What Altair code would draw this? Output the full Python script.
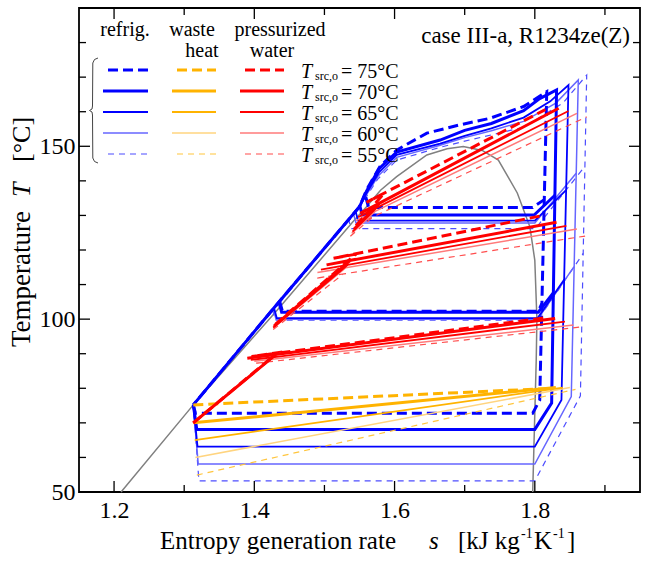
import altair as alt
import pandas as pd

# ---------------- values ----------------
CASES = [75, 70, 65, 60, 55]  # T_src,o [°C]

# saturation dome (grey)
DOME_S = [1.210, 1.313, 1.430, 1.540, 1.560, 1.580, 1.603, 1.646, 1.675, 1.698,
          1.725, 1.748, 1.775, 1.793, 1.800, 1.803, 1.802, 1.797]
DOME_T = [50.0, 75.2, 102.0, 128.0, 132.5, 137.3, 141.2, 147.5, 149.3, 149.9,
          148.8, 146.0, 136.5, 126.7, 117.0, 100.0, 88.0, 50.0]

# refrigerant: main loop (throttle, evaporator, superheat, compression, gas cooler, liquid line)
REF_MAIN_S = {
    75: [1.313, 1.316, 1.797, 1.807, 1.817, 1.784, 1.736, 1.693, 1.646, 1.603, 1.579, 1.560, 1.550, 1.427, 1.313],
    70: [1.313, 1.318, 1.800, 1.824, 1.831, 1.807, 1.784, 1.738, 1.700, 1.665, 1.603, 1.578, 1.560, 1.550, 1.427, 1.313],
    65: [1.313, 1.319, 1.800, 1.838, 1.848, 1.822, 1.784, 1.738, 1.700, 1.665, 1.603, 1.578, 1.560, 1.550, 1.427, 1.313],
    60: [1.313, 1.320, 1.800, 1.852, 1.862, 1.830, 1.784, 1.738, 1.700, 1.665, 1.603, 1.577, 1.560, 1.550, 1.427, 1.313],
    55: [1.313, 1.321, 1.800, 1.865, 1.874, 1.840, 1.784, 1.738, 1.700, 1.665, 1.603, 1.576, 1.560, 1.550, 1.427, 1.313],
}
REF_MAIN_T = {
    75: [75.2, 72.8, 72.8, 76.6, 165.8, 161.5, 158.1, 156.2, 153.8, 148.9, 144.1, 137.4, 132.5, 103.0, 75.2],
    70: [75.2, 68.1, 68.1, 75.7, 166.3, 163.8, 160.3, 156.6, 154.6, 151.8, 148.3, 143.5, 137.0, 132.5, 103.0, 75.2],
    65: [75.2, 63.1, 63.1, 76.6, 167.7, 163.0, 158.3, 155.2, 153.0, 150.8, 147.5, 142.5, 136.5, 132.5, 103.0, 75.2],
    60: [75.2, 58.1, 58.1, 77.6, 169.2, 162.5, 157.2, 154.5, 152.5, 150.3, 146.8, 141.5, 136.0, 132.5, 103.0, 75.2],
    55: [75.2, 53.2, 53.2, 77.8, 170.6, 162.5, 155.5, 153.3, 151.5, 149.7, 146.0, 140.5, 135.5, 132.5, 103.0, 75.2],
}
# refrigerant: first intermediate pressure level
REF_MID1_S = {75: [1.436, 1.440, 1.805, 1.810], 70: [1.435, 1.439, 1.805, 1.826],
              65: [1.428, 1.432, 1.804, 1.842], 60: [1.427, 1.431, 1.804, 1.856],
              55: [1.426, 1.430, 1.804, 1.869]}
REF_MID1_T = {75: [105.3, 102.3, 102.3, 104.5], 70: [105.0, 102.0, 102.0, 107.5],
              65: [103.3, 100.3, 100.3, 111.5], 60: [103.0, 100.0, 100.0, 115.2],
              55: [102.7, 99.7, 99.7, 119.0]}
# refrigerant: second intermediate pressure level
REF_MID2_S = {75: [1.559, 1.563, 1.797, 1.813], 70: [1.550, 1.554, 1.799, 1.829],
              65: [1.544, 1.548, 1.800, 1.845], 60: [1.541, 1.545, 1.800, 1.859],
              55: [1.534, 1.538, 1.801, 1.871]}
REF_MID2_T = {75: [135.3, 132.3, 132.3, 134.5], 70: [133.1, 130.1, 130.1, 135.9],
              65: [131.5, 128.5, 128.5, 137.4], 60: [130.8, 127.8, 127.8, 142.2],
              55: [129.2, 126.2, 126.2, 144.1]}

# waste heat (source) lines
WASTE_S = {75: [1.313, 1.815], 70: [1.313, 1.830], 65: [1.315, 1.840], 60: [1.316, 1.850], 55: [1.318, 1.858]}
WASTE_T = {75: [75.2, 79.9], 70: [70.0, 80.2], 65: [65.0, 80.2], 60: [60.0, 80.2], 55: [54.9, 79.7]}

# pressurized water: three heating stages
WATER_LOW_S = {75: [1.313, 1.433, 1.396, 1.812], 70: [1.313, 1.431, 1.390, 1.829],
               65: [1.313, 1.426, 1.395, 1.843], 60: [1.313, 1.422, 1.400, 1.855],
               55: [1.313, 1.418, 1.400, 1.869]}
WATER_LOW_T = {75: [70.0, 90.3, 89.2, 100.3], 70: [70.0, 89.8, 88.7, 100.2],
               65: [70.0, 89.0, 88.2, 99.3], 60: [70.0, 88.3, 87.8, 98.3],
               55: [70.0, 87.6, 87.2, 97.8]}
WATER_MID_S = {75: [1.430, 1.545, 1.513, 1.814], 70: [1.428, 1.537, 1.503, 1.831],
               65: [1.427, 1.533, 1.495, 1.845], 60: [1.427, 1.530, 1.490, 1.860],
               55: [1.427, 1.527, 1.487, 1.874]}
WATER_MID_T = {75: [98.5, 118.8, 117.6, 130.1], 70: [98.0, 117.0, 115.7, 128.0],
               65: [97.6, 115.7, 114.3, 127.0], 60: [97.4, 114.8, 113.5, 126.1],
               55: [97.0, 113.1, 111.8, 124.1]}
WATER_HIGH_S = {75: [1.545, 1.585, 1.560, 1.815], 70: [1.542, 1.579, 1.551, 1.834],
                65: [1.540, 1.575, 1.548, 1.848], 60: [1.539, 1.573, 1.545, 1.860],
                55: [1.537, 1.570, 1.542, 1.874]}
WATER_HIGH_T = {75: [127.0, 136.4, 133.8, 160.6], 70: [126.0, 133.6, 130.6, 161.0],
                65: [125.3, 132.3, 129.5, 160.2], 60: [124.8, 131.3, 128.5, 159.5],
                55: [124.0, 129.7, 127.0, 158.5]}

X_MAJOR = [1.2, 1.4, 1.6, 1.8]
X_MINOR = [1.3, 1.5, 1.7, 1.9]
Y_MAJOR = [50, 100, 150]
Y_MINOR = [60, 70, 80, 90, 110, 120, 130, 140, 160, 170, 180]

# ---------------- styles ----------------
W, H = 561, 484
SERIF = "Liberation Serif"
BLUE = {75: "#0000FF", 70: "#0000FF", 65: "#0000FF", 60: "#6666FF", 55: "#4D4DFF"}
ORANGE = {75: "#FFB300", 70: "#FFB300", 65: "#FFB300", 60: "#FFD47F", 55: "#FFC53D"}
RED = {75: "#FF0000", 70: "#FF0000", 65: "#FF0000", 60: "#FF7A7A", 55: "#FF4D4D"}
WIDTH = {75: 3.0, 70: 3.0, 65: 1.8, 60: 1.5, 55: 1.2}
DASH = {75: [10, 5], 70: None, 65: None, 60: None, 55: [6, 5]}

XS = alt.Scale(domain=[1.15, 1.95], nice=False, zero=False)
YS = alt.Scale(domain=[50, 190], nice=False, zero=False)
XAX = alt.Axis(values=X_MAJOR, format=".1f", ticks=False, tickSize=0, domain=False, grid=False,
               labelFont=SERIF, labelFontSize=24, labelColor="black", labelPadding=6,
               labelFlush=False, labelOverlap=False, title=None)
YAX = alt.Axis(values=Y_MAJOR, format="d", ticks=False, tickSize=0, domain=False, grid=False,
               labelFont=SERIF, labelFontSize=24, labelColor="black", labelPadding=4,
               labelFlush=False, labelOverlap=False, title=None)

ONE = pd.DataFrame({"k": [0]})


def poly(s, t, color, width, dash=None):
    df = pd.DataFrame({"s": s, "T": t, "i": list(range(len(s)))})
    kw = dict(color=color, strokeWidth=width, strokeJoin="miter")
    if dash:
        kw["strokeDash"] = dash
    return alt.Chart(df).mark_line(**kw).encode(
        x=alt.X("s:Q", scale=XS, axis=XAX),
        y=alt.Y("T:Q", scale=YS, axis=YAX),
        order="i:Q",
    )


def txt(text, x, y, size, align="left", style="normal", angle=0, baseline="alphabetic"):
    kw = dict(text=text, font=SERIF, fontSize=size, align=align, baseline=baseline,
              color="black", fontStyle=style)
    if angle:
        kw["angle"] = angle
    return alt.Chart(ONE).mark_text(**kw).encode(x=alt.value(x), y=alt.value(y))


def hrule(x1, x2, y, color, width, dash=None):
    kw = dict(color=color, strokeWidth=width)
    if dash:
        kw["strokeDash"] = dash
    return alt.Chart(ONE).mark_rule(**kw).encode(x=alt.value(x1), x2=alt.value(x2), y=alt.value(y))


layers = []

# saturation dome
layers.append(poly(DOME_S, DOME_T, "#808080", 1.5))

order = [55, 60, 65, 70, 75]
for c in order:
    layers.append(poly(REF_MAIN_S[c], REF_MAIN_T[c], BLUE[c], WIDTH[c], DASH[c]))
    layers.append(poly(REF_MID1_S[c], REF_MID1_T[c], BLUE[c], WIDTH[c], DASH[c]))
    layers.append(poly(REF_MID2_S[c], REF_MID2_T[c], BLUE[c], WIDTH[c], DASH[c]))
for c in order:
    layers.append(poly(WASTE_S[c], WASTE_T[c], ORANGE[c], WIDTH[c], DASH[c]))
for c in order:
    layers.append(poly(WATER_LOW_S[c], WATER_LOW_T[c], RED[c], WIDTH[c], DASH[c]))
    layers.append(poly(WATER_MID_S[c], WATER_MID_T[c], RED[c], WIDTH[c], DASH[c]))
    layers.append(poly(WATER_HIGH_S[c], WATER_HIGH_T[c], RED[c], WIDTH[c], DASH[c]))


# inward ticks on all four sides
def xticks(vals, length):
    df = pd.DataFrame({"v": vals})
    base = alt.Chart(df).mark_rule(color="black", strokeWidth=1.3)
    bottom = base.encode(x=alt.X("v:Q", scale=XS, axis=XAX), y=alt.value(H), y2=alt.value(H - length))
    top = base.encode(x=alt.X("v:Q", scale=XS, axis=XAX), y=alt.value(0), y2=alt.value(length))
    return [bottom, top]


def yticks(vals, length):
    df = pd.DataFrame({"v": vals})
    base = alt.Chart(df).mark_rule(color="black", strokeWidth=1.3)
    left = base.encode(y=alt.Y("v:Q", scale=YS, axis=YAX), x=alt.value(0), x2=alt.value(length))
    right = base.encode(y=alt.Y("v:Q", scale=YS, axis=YAX), x=alt.value(W), x2=alt.value(W - length))
    return [left, right]


layers += xticks(X_MAJOR, 11) + xticks(X_MINOR, 7) + yticks(Y_MAJOR, 11) + yticks(Y_MINOR, 7)

# ---------------- custom legend ----------------
ROW_Y = [62, 83, 104, 125, 146]
for k, c in enumerate(CASES):
    y = ROW_Y[k]
    off = 5 if DASH[c] else 0
    layers.append(hrule(24 + off, 69, y, BLUE[c], WIDTH[c], DASH[c]))
    layers.append(hrule(93 + off, 137, y, ORANGE[c], WIDTH[c], DASH[c]))
    layers.append(hrule(161 + off, 205, y, RED[c], WIDTH[c], DASH[c]))
    layers.append(txt("T", 222, y + 8, 20, style="italic"))
    layers.append(txt("src,o", 236, y + 10, 12))
    layers.append(txt(f"= {c}°C", 262, y + 8, 20))

layers.append(txt("refrig.", 46, 28, 20, align="center"))
layers.append(txt("waste", 113, 28, 20, align="center"))
layers.append(txt("heat", 123, 49, 20, align="center"))
layers.append(txt("pressurized", 201, 28, 20, align="center"))
layers.append(txt("water", 193, 49, 20, align="center"))

# brace grouping the legend rows (pixel positions converted to data units)
BRACE_PX = [19, 15.5, 13.8, 13.5, 13.0, 10.5, 13.0, 13.5, 13.8, 15.5, 19]
BRACE_PY = [50, 51.5, 55, 98, 101, 102.5, 104, 107, 150, 153.5, 155]
brace_s = [1.15 + p / W * 0.8 for p in BRACE_PX]
brace_t = [190 - p / H * 140 for p in BRACE_PY]
layers.append(poly(brace_s, brace_t, "#444444", 1.0))

# case label
layers.append(txt("case III-a, R1234ze(Z)", 551, 35, 23, align="right"))

# axis titles
layers.append(txt("Entropy generation rate", 81, 541, 25))
layers.append(txt("s", 350, 541, 25, style="italic"))
layers.append(txt("[kJ kg", 379, 541, 25))
layers.append(txt("-1", 442, 530, 14))
layers.append(txt("K", 455, 541, 25))
layers.append(txt("-1", 474, 530, 14))
layers.append(txt("]", 488, 541, 25))

layers.append(txt("Temperature", -49, 339, 27, angle=270))
layers.append(txt("T", -49, 189, 26, style="italic", angle=270))
layers.append(txt("[°C]", -49, 154, 26, angle=270))

chart = alt.layer(*layers).properties(
    width=W,
    height=H,
    padding={"left": 79, "top": 8, "right": 11, "bottom": 69},
    autosize=alt.AutoSizeParams(type="none"),
    background="white",
).configure_view(stroke="black", strokeWidth=1.8)

chart.save("out.html", embed_options={"renderer": "svg", "actions": False})
